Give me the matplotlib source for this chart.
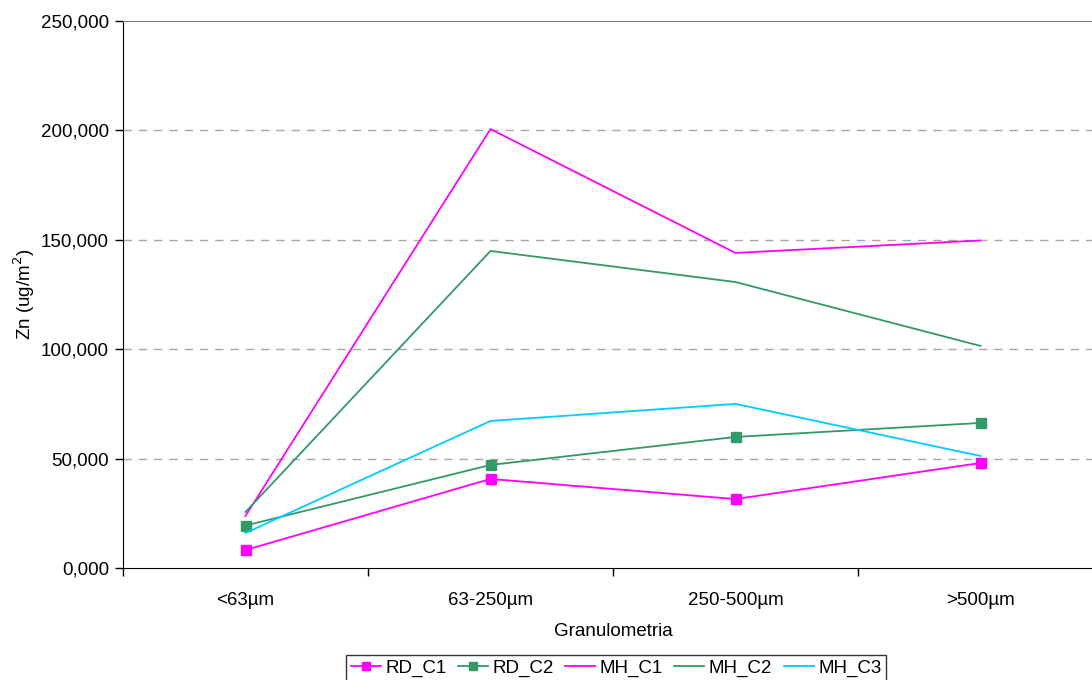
import matplotlib.pyplot as plt

plt.rcParams['font.family'] = ['Liberation Sans', 'DejaVu Sans']

# Data
categories = ['<63µm', '63-250µm', '250-500µm', '>500µm']
rd_c1 = [8200, 40700, 31500, 48000]
rd_c2 = [19400, 47100, 59900, 66300]
mh_c1 = [23800, 200600, 144000, 149700]
mh_c2 = [25600, 144900, 130700, 101500]
mh_c3 = [16000, 67200, 75000, 51200]
y_ticks = [0, 50000, 100000, 150000, 200000, 250000]
y_labels = ['0,000', '50,000', '100,000', '150,000', '200,000', '250,000']

magenta = '#FF00FF'
green = '#339966'
cyan = '#00CCFF'
fs = 13.5

fig = plt.figure(figsize=(10.92, 6.8), dpi=100)
# plot area runs past the right edge, like the original
ax = fig.add_axes([123 / 1092, 112 / 680, 980 / 1092, 547 / 680])

x = list(range(len(categories)))
ax.plot(x, rd_c1, color=magenta, lw=1.3, marker='s', ms=7, label='RD_C1')
ax.plot(x, rd_c2, color=green, lw=1.3, marker='s', ms=7, label='RD_C2')
ax.plot(x, mh_c1, color=magenta, lw=1.3, label='MH_C1')
ax.plot(x, mh_c2, color=green, lw=1.3, label='MH_C2')
ax.plot(x, mh_c3, color=cyan, lw=1.3, label='MH_C3')

ax.set_xlim(-0.5, len(categories) - 0.5)
ax.set_ylim(0, 250000)
ax.set_yticks(y_ticks)
ax.set_yticklabels(y_labels)
ax.set_xticks(x)
ax.set_xticklabels(categories)
ax.set_xticks([i + 0.5 for i in range(-1, len(categories))], minor=True)
ax.tick_params(axis='x', which='major', length=0, pad=17, labelsize=fs)
ax.tick_params(axis='x', which='minor', length=6, width=1, color='black')
ax.tick_params(axis='y', length=6, width=1, labelsize=fs, pad=4)

for yv in y_ticks[1:-1]:
    ax.axhline(yv, color='#A6A6A6', lw=1, ls=(0, (6, 5)), zorder=0)

ax.spines['top'].set_color('#808080')
ax.spines['right'].set_visible(False)
ax.spines['left'].set_color('black')
ax.spines['bottom'].set_color('black')

ax.set_xlabel('Granulometria', fontsize=fs, labelpad=10)
ax.set_ylabel('Zn (ug/m$^2$)', fontsize=fs, labelpad=3)

leg = fig.legend(loc='upper center', bbox_to_anchor=(616 / 1092, 25 / 680), ncol=5,
                 fontsize=fs, frameon=True, fancybox=False, edgecolor='black',
                 handlelength=1.6, handletextpad=0.25, columnspacing=0.6,
                 borderpad=0.25, borderaxespad=0, markerscale=0.85)
leg.get_frame().set_linewidth(1)

fig.savefig('out.png', dpi=100)
